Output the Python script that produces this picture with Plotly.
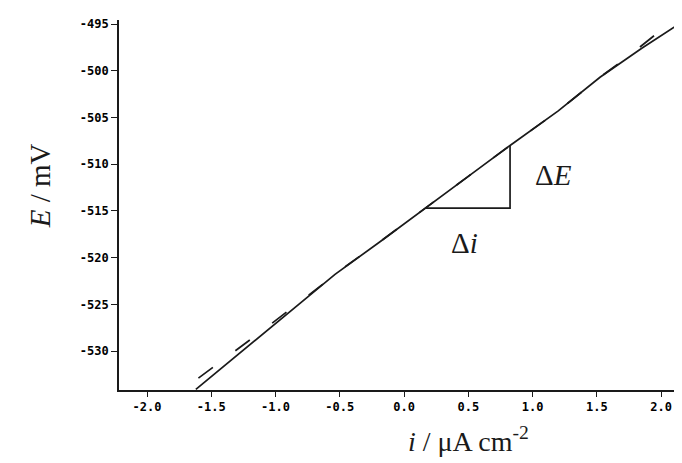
import plotly.graph_objects as go

# Data
solid_i = [-1.62, -1.276, -0.887, -0.537, -0.187, 0.163, 0.50, 0.825, 1.20, 1.525, 1.85, 2.163]
solid_E = [-534.1, -530.2, -525.8, -521.8, -518.3, -514.7, -511.3, -508.0, -504.3, -500.7, -497.6, -494.8]

dash_i = [-1.60, -1.10, -0.75, -0.45, -0.187, 0.163, 0.50, 0.825, 1.20, 1.525, 1.75, 1.95, 2.163]
dash_E = [-532.9, -527.8, -524.1, -520.9, -518.3, -514.7, -511.3, -508.0, -504.3, -500.7, -498.4, -496.2, -494.2]

tri_i = [0.163, 0.825, 0.825]
tri_E = [-514.7, -514.7, -508.0]

x_ticks = [-2.0, -1.5, -1.0, -0.5, 0.0, 0.5, 1.0, 1.5, 2.0]
x_labels = ["-2.0", "-1.5", "-1.0", "-0.5", "0.0", "0.5", "1.0", "1.5", "2.0"]
y_ticks = [-495, -500, -505, -510, -515, -520, -525, -530]
y_labels = ["-495", "-500", "-505", "-510", "-515", "-520", "-525", "-530"]

ink = "#1a1a1a"
serif = "Liberation Serif"

fig = go.Figure()
fig.add_trace(go.Scatter(x=dash_i, y=dash_E, mode="lines",
                         line=dict(color=ink, width=1.7, dash="18px,28px"),
                         hoverinfo="skip", showlegend=False))
fig.add_trace(go.Scatter(x=solid_i, y=solid_E, mode="lines",
                         line=dict(color=ink, width=1.7),
                         hoverinfo="skip", showlegend=False))
fig.add_trace(go.Scatter(x=tri_i, y=tri_E, mode="lines",
                         line=dict(color=ink, width=1.7),
                         hoverinfo="skip", showlegend=False))

fig.add_annotation(x=1.16, y=-511.2, text="Δ<i>E</i>", showarrow=False,
                   font=dict(family=serif, size=29, color=ink))
fig.add_annotation(x=0.467, y=-518.4, text="Δ<i>i</i>", showarrow=False,
                   font=dict(family=serif, size=29, color=ink))

# axis titles
fig.add_annotation(xref="paper", yref="paper", x=-0.140, y=0.551,
                   text="<i>E</i> / mV", textangle=-90, showarrow=False,
                   xanchor="center", yanchor="middle",
                   font=dict(family=serif, size=29, color=ink))
fig.add_annotation(xref="paper", yref="paper", x=0.62, y=-0.135,
                   text="<i>i</i> / μA cm<sup>-2</sup>", showarrow=False,
                   xanchor="center", yanchor="middle",
                   font=dict(family=serif, size=28, color=ink))

tickfont = dict(family="DejaVu Sans Mono", size=12, color="#000000", weight="bold")

fig.update_layout(
    width=682, height=463,
    margin=dict(l=111, r=8, t=12, b=81),
    paper_bgcolor="white", plot_bgcolor="white",
    xaxis=dict(range=[-2.218, 2.163], tickvals=x_ticks, ticktext=x_labels,
               showgrid=False, zeroline=False, showline=True, linecolor=ink,
               linewidth=1.7, ticks="outside", ticklen=5, tickwidth=1.4,
               tickcolor=ink, tickfont=tickfont),
    yaxis=dict(range=[-534.17, -494.57], tickvals=y_ticks, ticktext=y_labels,
               showgrid=False, zeroline=False, showline=True, linecolor=ink,
               linewidth=1.7, ticks="outside", ticklen=6, tickwidth=1.4,
               tickcolor=ink, tickfont=tickfont),
)

fig.write_html("out.html")
